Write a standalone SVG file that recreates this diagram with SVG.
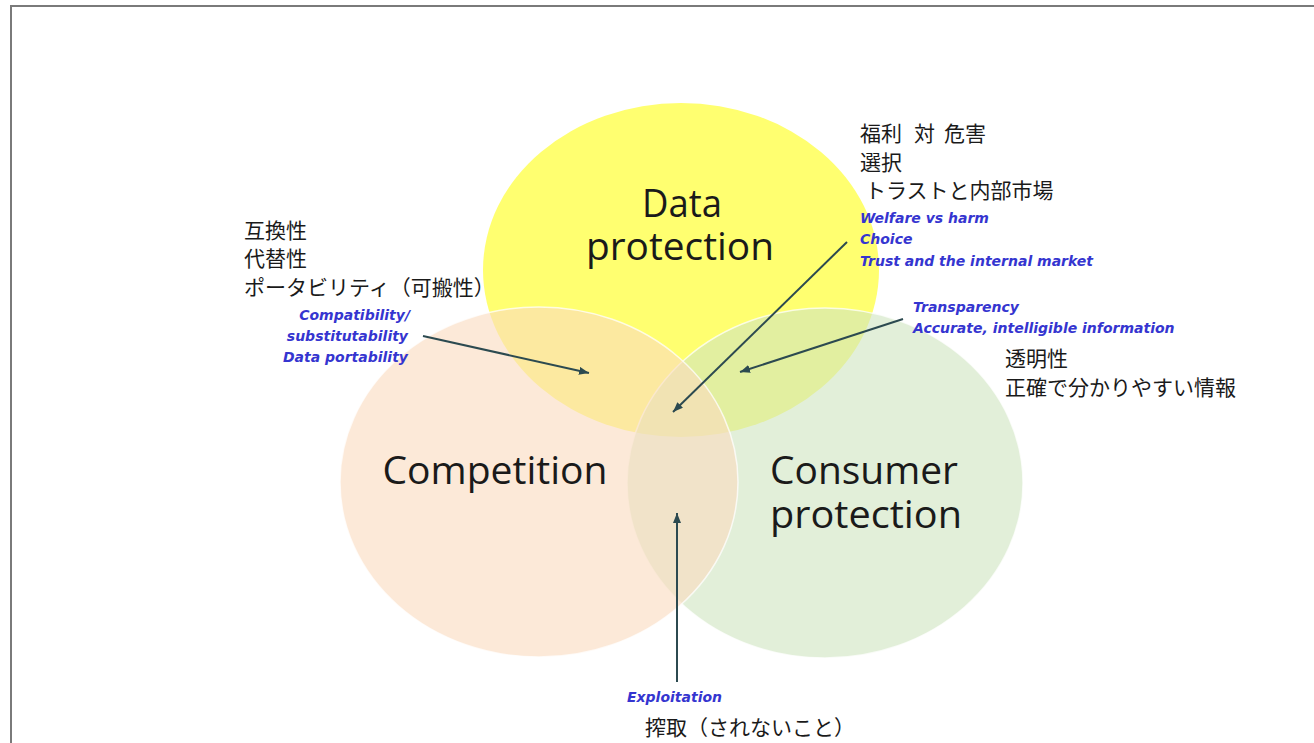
<svg xmlns="http://www.w3.org/2000/svg" width="1314" height="743" viewBox="0 0 1314 743">
<defs>
<style>
.jp{font-family:"Noto Sans CJK JP","Noto Sans",sans-serif;font-size:21px;fill:#1a1a1a}
.en{font-family:"DejaVu Sans",sans-serif;font-size:14px;font-weight:bold;font-style:oblique;fill:#3535d0}
.big{font-family:"Open Sans","Noto Sans",sans-serif;font-size:38px;fill:#1a1a1a;text-anchor:middle}
.arr{stroke:#2c4a50;stroke-width:2;fill:none;marker-end:url(#ah)}
.edge{stroke:#ffffff;stroke-opacity:0.75;stroke-width:1.5}
</style>
<marker id="ah" viewBox="0 0 10 8" refX="10" refY="4" markerWidth="10" markerHeight="8" markerUnits="userSpaceOnUse" orient="auto">
<path d="M0,0 L10,4 L0,8 Z" fill="#2c4a50"/>
</marker>
</defs>
<rect width="1314" height="743" fill="#ffffff"/>
<path d="M11,743 V6 H1314" fill="none" stroke="#7a7a7a" stroke-width="2"/>

<g id="data-protection">
<ellipse cx="681" cy="270" rx="198" ry="167" fill="#ffff70"/>
</g>
<g id="consumer-protection">
<ellipse class="edge" cx="825" cy="483" rx="198" ry="175" fill="rgb(207,228,192)" fill-opacity="0.6"/>
</g>
<g id="competition">
<ellipse class="edge" cx="539" cy="482" rx="199" ry="175" fill="rgb(250,219,191)" fill-opacity="0.61"/>
</g>

<g id="labels-big">
<text class="big" x="682" y="217" textLength="80" lengthAdjust="spacingAndGlyphs">Data</text>
<text class="big" x="680" y="260" textLength="188" lengthAdjust="spacingAndGlyphs">protection</text>
<text class="big" x="495" y="484" textLength="225" lengthAdjust="spacingAndGlyphs">Competition</text>
<text class="big" x="864" y="484" textLength="188" lengthAdjust="spacingAndGlyphs">Consumer</text>
<text class="big" x="866" y="528" textLength="192" lengthAdjust="spacingAndGlyphs">protection</text>
</g>

<g id="connectors">
<line class="arr" x1="423" y1="336" x2="589" y2="373"/>
<line class="arr" x1="847" y1="242" x2="673" y2="412"/>
<line class="arr" x1="903" y1="319" x2="740" y2="372"/>
<line class="arr" x1="677" y1="682" x2="677" y2="513"/>
</g>

<g id="note-competition-dp">
<text class="jp" x="244" y="238">互換性</text>
<text class="jp" x="244" y="266">代替性</text>
<text class="jp" x="244" y="295">ポータビリティ（可搬性）</text>
<text class="en" x="410" y="320" text-anchor="end">Compatibility/</text>
<text class="en" x="408" y="341" text-anchor="end">substitutability</text>
<text class="en" x="408" y="362" text-anchor="end">Data portability</text>
</g>

<g id="note-center">
<text class="jp" x="860" y="141">福利<tspan x="914">対</tspan><tspan x="944">危害</tspan></text>
<text class="jp" x="860" y="170">選択</text>
<text class="jp" x="865" y="198">トラストと内部市場</text>
<text class="en" x="860" y="223">Welfare vs harm</text>
<text class="en" x="860" y="244">Choice</text>
<text class="en" x="860" y="266">Trust and the internal market</text>
</g>

<g id="note-consumer-dp">
<text class="en" x="913" y="312">Transparency</text>
<text class="en" x="913" y="333">Accurate, intelligible information</text>
<text class="jp" x="1005" y="366">透明性</text>
<text class="jp" x="1005" y="395">正確で分かりやすい情報</text>
</g>

<g id="note-competition-consumer">
<text class="en" x="627" y="702">Exploitation</text>
<text class="jp" x="645" y="735">搾取（されないこと）</text>
</g>
</svg>
